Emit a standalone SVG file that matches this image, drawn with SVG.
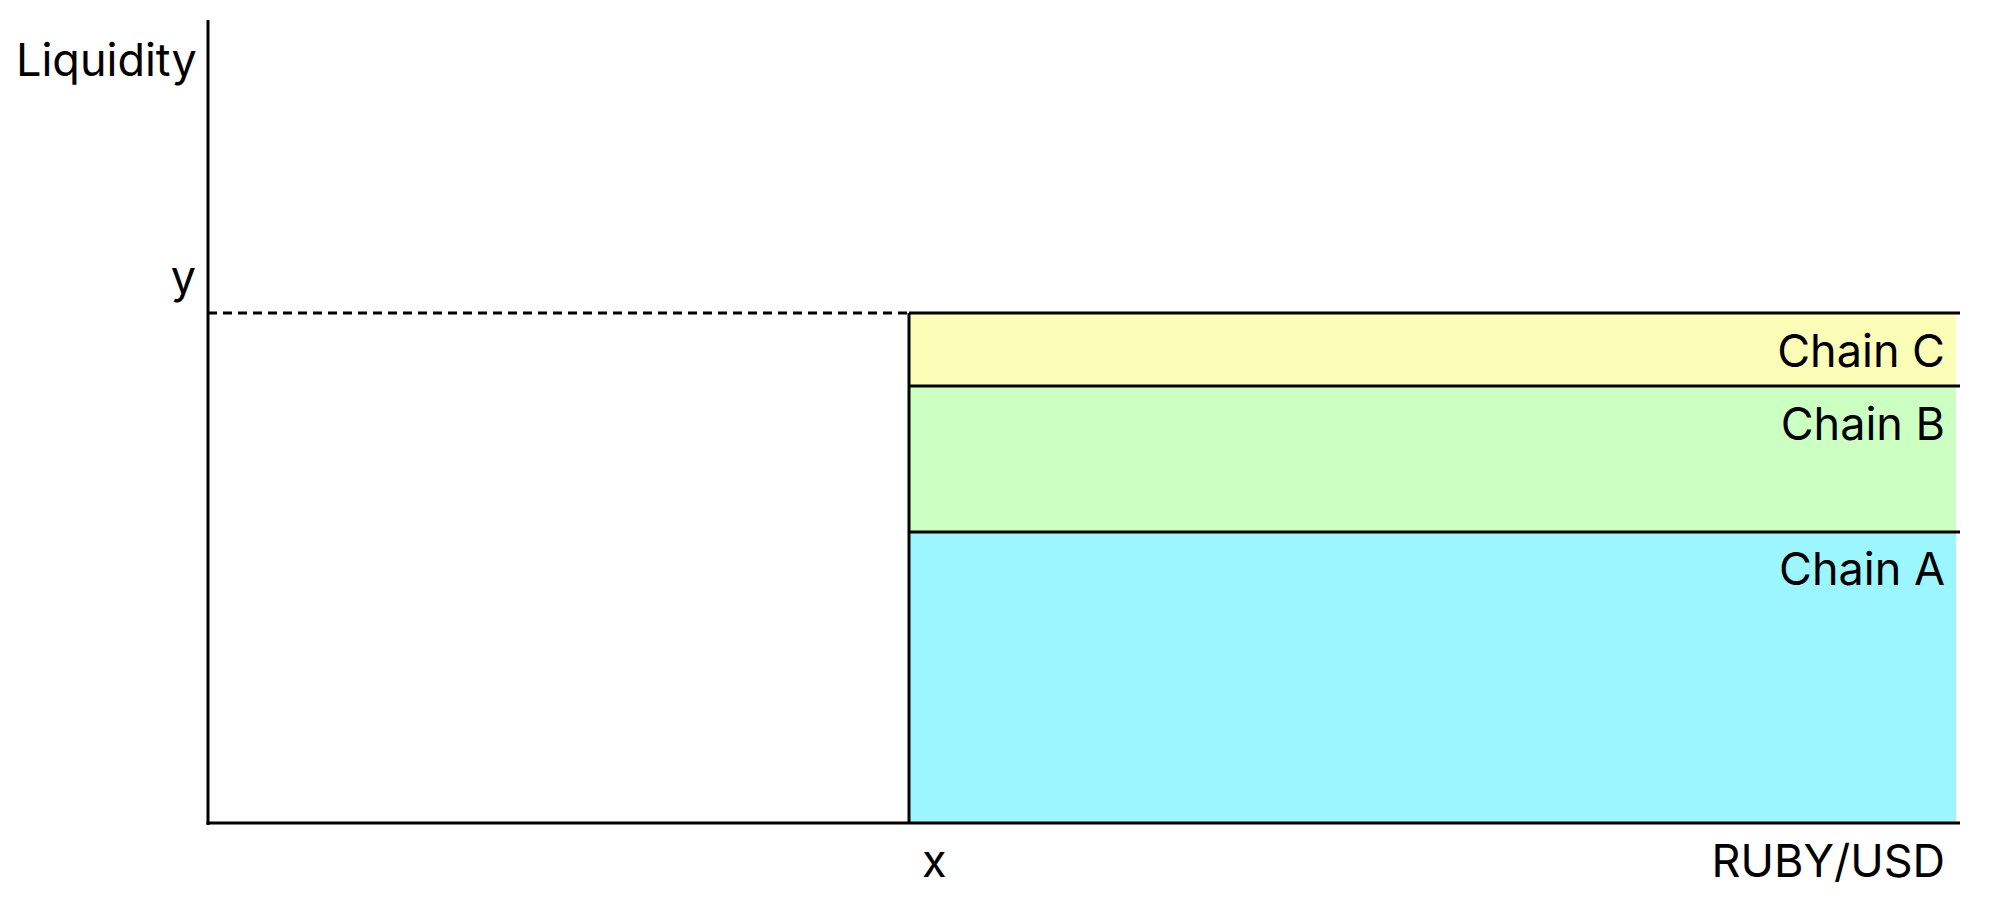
<svg xmlns="http://www.w3.org/2000/svg" width="2000" height="900" viewBox="0 0 2000 900">
<style>
text{font-family:Inter,"Liberation Sans",sans-serif;font-size:45px;fill:#000}
.ln{stroke:#000;stroke-width:3;fill:none}
.r{text-anchor:end}
</style>
<rect width="2000" height="900" fill="#fff"/>
<g id="chainA"><rect x="909" y="532" width="1047" height="291" fill="#9cf6ff"/><text class="r" x="1945" y="585">Chain A</text></g>
<g id="chainB"><rect x="909" y="386" width="1047" height="146" fill="#ccffc2"/><text class="r" x="1945" y="440">Chain B</text></g>
<g id="chainC"><rect x="909" y="313" width="1047" height="73" fill="#fcfdb6"/><text class="r" x="1945" y="367">Chain C</text></g>
<g id="connectors">
<line class="ln" x1="208" y1="20" x2="208" y2="825"/>
<line class="ln" x1="206.5" y1="823" x2="1960" y2="823"/>
<line class="ln" x1="909" y1="313" x2="909" y2="823"/>
<line class="ln" x1="909" y1="313" x2="1960" y2="313"/>
<line class="ln" x1="909" y1="386" x2="1960" y2="386"/>
<line class="ln" x1="909" y1="532" x2="1960" y2="532"/>
<line class="ln" x1="208" y1="313" x2="909" y2="313" stroke-dasharray="9,6"/>
</g>
<g id="labels">
<text x="16" y="76">Liquidity</text>
<text class="r" x="196" y="293">y</text>
<text x="922" y="877">x</text>
<text class="r" x="1945" y="877">RUBY/USD</text>
</g>
</svg>
